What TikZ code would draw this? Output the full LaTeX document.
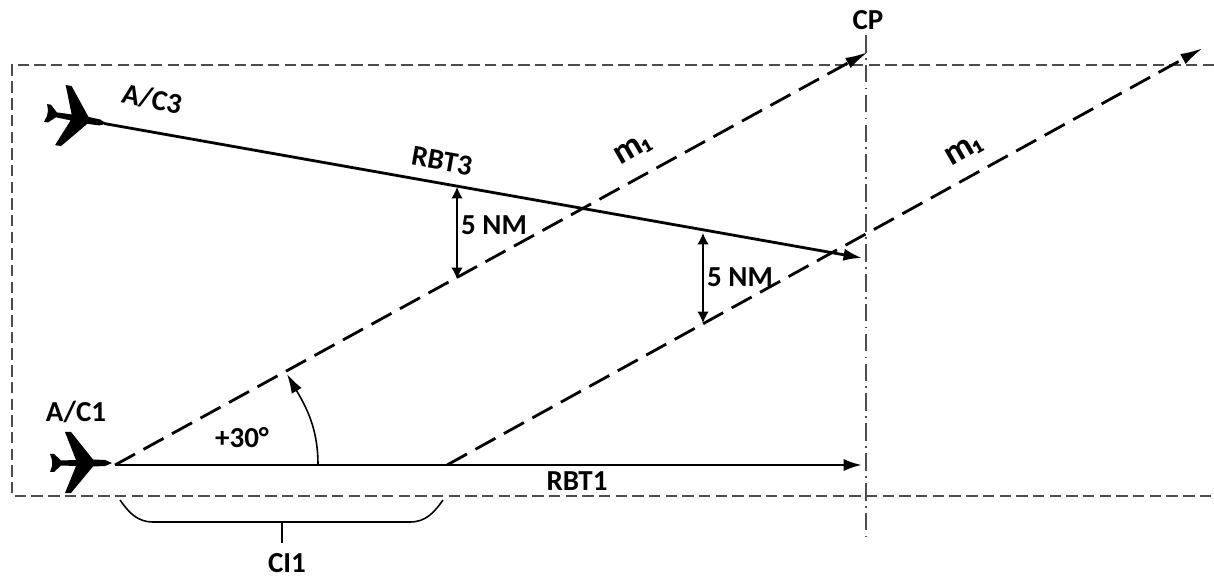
\documentclass[tikz,border=0pt]{standalone}
\usepackage{fontspec}
\setmainfont{Carlito}
\usetikzlibrary{arrows.meta, calc}
\tikzset{
    >=Latex,
    font=\fontsize{16.5}{19}\selectfont\bfseries,
    atc_frame/.style={
        draw=black!70,
        line width=1pt,
        dash pattern=on 6.5pt off 3pt
    },
    atc_cross/.style={
        draw=black!70,
        line width=0.9pt,
        dash pattern=on 10pt off 3pt on 1pt off 3pt
    },
    atc_route/.style={
        -{Latex[length=10.5pt, width=7pt]},
        line width=1.6pt
    },
    atc_heading/.style={
        -{Latex[length=13pt, width=6.5pt]},
        line width=1.6pt,
        dash pattern=on 13pt off 5.5pt
    },
    atc_gap/.style={
        {Latex[length=6.5pt, width=6.5pt]}-{Latex[length=6.5pt, width=6.5pt]},
        line width=0.8pt
    },
    atc_angle/.style={
        -{Latex[length=11pt, width=6.5pt]},
        line width=0.9pt
    },
    atc_brace/.style={
        line width=0.9pt
    },
    atc_label/.style={
        inner sep=0pt
    },
    atc_sub/.style={
        inner sep=0pt,
        font=\fontsize{20}{22}\selectfont\bfseries
    },
    plane/.pic={
        \fill (-33,-3) -- (-35,-9) -- (-31,-9) -- (-24,-2.5) -- (-9,-3)
            -- (-20,-31) -- (-14,-31) -- (8,-3.5) -- (20,-3) -- (27,0)
            -- (20,3) -- (8,3.5) -- (-14,30) -- (-20,30) -- (-9,3) -- (-24,2.5)
            -- (-31,9) -- (-35,9) -- (-33,3) -- cycle;
    }
}

\begin{document}
\begin{tikzpicture}[x=0.02cm, y=-0.02cm]
\useasboundingbox (0,0) rectangle (1214,577);

% --- Points ---
\coordinate (startOne) at (115,465);
\coordinate (endOne) at (862,465);
\coordinate (startThree) at (104,123.5);
\coordinate (endThree) at (862,258);
\coordinate (shiftOne) at (447,465);
\coordinate (tipOne) at (868,52);
\coordinate (tipTwo) at (1203,48);
\coordinate (cpTop) at (866,35);
\coordinate (cpBottom) at (866,541);
\coordinate (frameTR) at (1214,65);
\coordinate (frameTL) at (12,65);
\coordinate (frameBL) at (12,496);
\coordinate (frameBR) at (1214,496);
\coordinate (gapOneTop) at (457,187);
\coordinate (gapOneBot) at (457,279);
\coordinate (gapTwoTop) at (703,233);
\coordinate (gapTwoBot) at (703,323);
\coordinate (angleStart) at (318,465);
\coordinate (angleEnd) at (287,374);
\coordinate (braceLeft) at (120,500);
\coordinate (braceRight) at (443,500);
\coordinate (braceMid) at (282,522);
\coordinate (braceEnd) at (282,543);

% --- Frame ---
\draw[atc_frame] (frameTR) -- (frameTL) -- (frameBL) -- (frameBR);
\draw[atc_cross] (cpTop) -- (cpBottom);

% --- Aircraft ---
\pic at (85,463) {plane};
\pic[rotate=-10] at (80,119) {plane};

% --- Routes ---
\draw[atc_route] (startOne) -- (endOne);
\draw[atc_route] (startThree) -- (endThree);
\draw[atc_heading] (startOne) -- (tipOne);
\draw[atc_heading] (shiftOne) -- (tipTwo);
\draw[atc_gap] (gapOneTop) -- (gapOneBot);
\draw[atc_gap] (gapTwoTop) -- (gapTwoBot);
\draw[atc_angle] (angleStart) to[out=90, in=-60] (angleEnd);
\draw[atc_brace] (braceLeft) to[out=-55, in=180] (153,522) -- (410,522) to[out=0, in=-125] (braceRight);
\draw[atc_brace] (braceMid) -- (braceEnd);

% --- Labels ---
\node[atc_label, rotate=-12] (labThree) at (152,99) {A/C3};
\node[atc_label] (labOne) at (76,412) {A/C1};
\node[atc_label, rotate=-10] (labRbtThree) at (442,161) {RBT3};
\node[atc_label] (labRbtOne) at (577,481) {RBT1};
\node[atc_sub, rotate=30] (labHeadA) at (633,150) {m₁};
\node[atc_sub, rotate=30] (labHeadB) at (964,151) {m₁};
\node[atc_label] (labGapA) at (494,225) {5 NM};
\node[atc_label] (labGapB) at (740,277) {5 NM};
\node[atc_label] (labAngle) at (242,438) {+30°};
\node[atc_label] (labCp) at (868,20) {CP};
\node[atc_label] (labCi) at (287,563) {CI1};

\end{tikzpicture}
\end{document}
